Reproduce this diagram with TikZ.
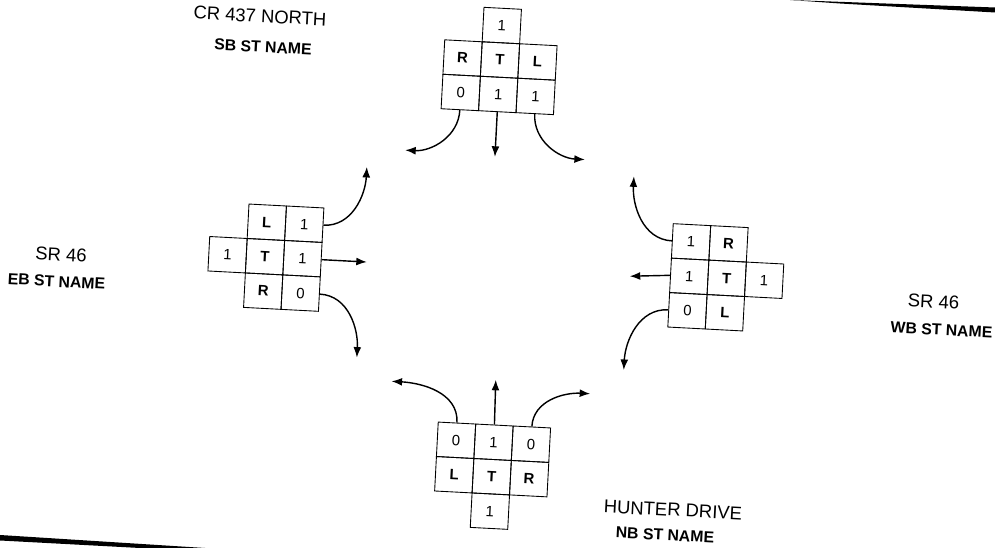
\documentclass[tikz,border=0pt]{standalone}
\usepackage{fontspec}
\setmainfont{Liberation Sans}
\usetikzlibrary{positioning, arrows.meta}

\begin{document}
\begin{tikzpicture}[x=0.02cm, y=0.02cm, ->, >={Latex[length=6pt, width=4.5pt]},
		cell/.style={draw, -, line width=0.5pt, minimum width=0.75cm, minimum height=0.69cm, inner sep=0pt, font=\fontsize{8.5}{10}\selectfont},
		move/.style={cell, font=\fontsize{8.5}{10}\selectfont\bfseries},
		turn/.style={line width=0.8pt},
		road/.style={font=\fontsize{10.5}{12}\selectfont, rotate=-3},
		bound/.style={font=\fontsize{9}{11}\selectfont\bfseries, rotate=-3}]
	\useasboundingbox (0, 0) rectangle (995, 548);
	% edges of the scanned page
	\fill (790, 548) -- (995, 540.5) -- (995, 535.5) -- (840, 544.5) -- cycle;
	\fill (0, 13) -- (205, 0) -- (140, 0) -- (0, 7.5) -- cycle;

	% street names
	\node[road] at (260, 532) (cr-name) {CR 437 NORTH};
	\node[bound] at (263, 501) (sb-name) {SB ST NAME};
	\node[road] at (61, 293.5) (sr-west-name) {SR 46};
	\node[bound] at (56.5, 266.5) (eb-name) {EB ST NAME};
	\node[road] at (933.5, 246.5) (sr-east-name) {SR 46};
	\node[bound] at (941.5, 218) (wb-name) {WB ST NAME};
	\node[road] at (673, 38) (hunter-name) {HUNTER DRIVE};
	\node[bound] at (665, 13) (nb-name) {NB ST NAME};

	% southbound
	\begin{scope}[shift={(500, 488)}, rotate=-3, transform shape]
		\node[cell] at (0, 34.5) (sb-top) {1};
		\node[move] at (-37.5, 0) (sb-r) {R};
		\node[move] at (0, 0) (sb-t) {T};
		\node[move] at (37.5, 0) (sb-l) {L};
		\node[cell] at (-37.5, -34.5) (sb-r-n) {0};
		\node[cell] at (0, -34.5) (sb-t-n) {1};
		\node[cell] at (37.5, -34.5) (sb-l-n) {1};
		\coordinate (sb-r-end) at (-90, -95);
		\coordinate (sb-t-end) at (0, -97);
		\coordinate (sb-l-end) at (90, -95);
		\draw[turn] (sb-r-n.south) to[out=-90, in=0] (sb-r-end);
		\draw[turn] (sb-t-n.south) -- (sb-t-end);
		\draw[turn] (sb-l-n.south) to[out=-90, in=180] (sb-l-end);
	\end{scope}

	% eastbound
	\begin{scope}[shift={(265, 291.3)}, rotate=-3, transform shape]
		\node[cell] at (-37.5, 0) (eb-top) {1};
		\node[move] at (0, 34.5) (eb-l) {L};
		\node[move] at (0, 0) (eb-t) {T};
		\node[move] at (0, -34.5) (eb-r) {R};
		\node[cell] at (37.5, 34.5) (eb-l-n) {1};
		\node[cell] at (37.5, 0) (eb-t-n) {1};
		\node[cell] at (37.5, -34.5) (eb-r-n) {0};
		\coordinate (eb-l-end) at (97, 95);
		\coordinate (eb-t-end) at (102, 0);
		\coordinate (eb-r-end) at (97, -96);
		\draw[turn] (eb-l-n.east) to[out=0, in=-90] (eb-l-end);
		\draw[turn] (eb-t-n.east) -- (eb-t-end);
		\draw[turn] (eb-r-n.east) to[out=0, in=90] (eb-r-end);
	\end{scope}

	% westbound
	\begin{scope}[shift={(726.7, 269.7)}, rotate=-3, transform shape]
		\node[cell] at (37.5, 0) (wb-top) {1};
		\node[move] at (0, 34.5) (wb-r) {R};
		\node[move] at (0, 0) (wb-t) {T};
		\node[move] at (0, -34.5) (wb-l) {L};
		\node[cell] at (-37.5, 34.5) (wb-r-n) {1};
		\node[cell] at (-37.5, 0) (wb-t-n) {1};
		\node[cell] at (-37.5, -34.5) (wb-l-n) {0};
		\coordinate (wb-r-end) at (-98, 97);
		\coordinate (wb-t-end) at (-97, -3);
		\coordinate (wb-l-end) at (-98, -97);
		\draw[turn] (wb-r-n.west) to[out=180, in=-90] (wb-r-end);
		\draw[turn] (wb-t-n.west) -- (wb-t-end);
		\draw[turn] (wb-l-n.west) to[out=180, in=90] (wb-l-end);
	\end{scope}

	% northbound
	\begin{scope}[shift={(491.7, 71.3)}, rotate=-3, transform shape]
		\node[cell] at (0, -34.5) (nb-top) {1};
		\node[move] at (-37.5, 0) (nb-l) {L};
		\node[move] at (0, 0) (nb-t) {T};
		\node[move] at (37.5, 0) (nb-r) {R};
		\node[cell] at (-37.5, 34.5) (nb-l-n) {0};
		\node[cell] at (0, 34.5) (nb-t-n) {1};
		\node[cell] at (37.5, 34.5) (nb-r-n) {0};
		\coordinate (nb-l-end) at (-105, 90);
		\coordinate (nb-t-end) at (-1, 97);
		\coordinate (nb-r-end) at (94, 88);
		\draw[turn] (nb-l-n.north) to[out=90, in=0] (nb-l-end);
		\draw[turn] (nb-t-n.north) -- (nb-t-end);
		\draw[turn] (nb-r-n.north) to[out=90, in=180] (nb-r-end);
	\end{scope}
\end{tikzpicture}
\end{document}
